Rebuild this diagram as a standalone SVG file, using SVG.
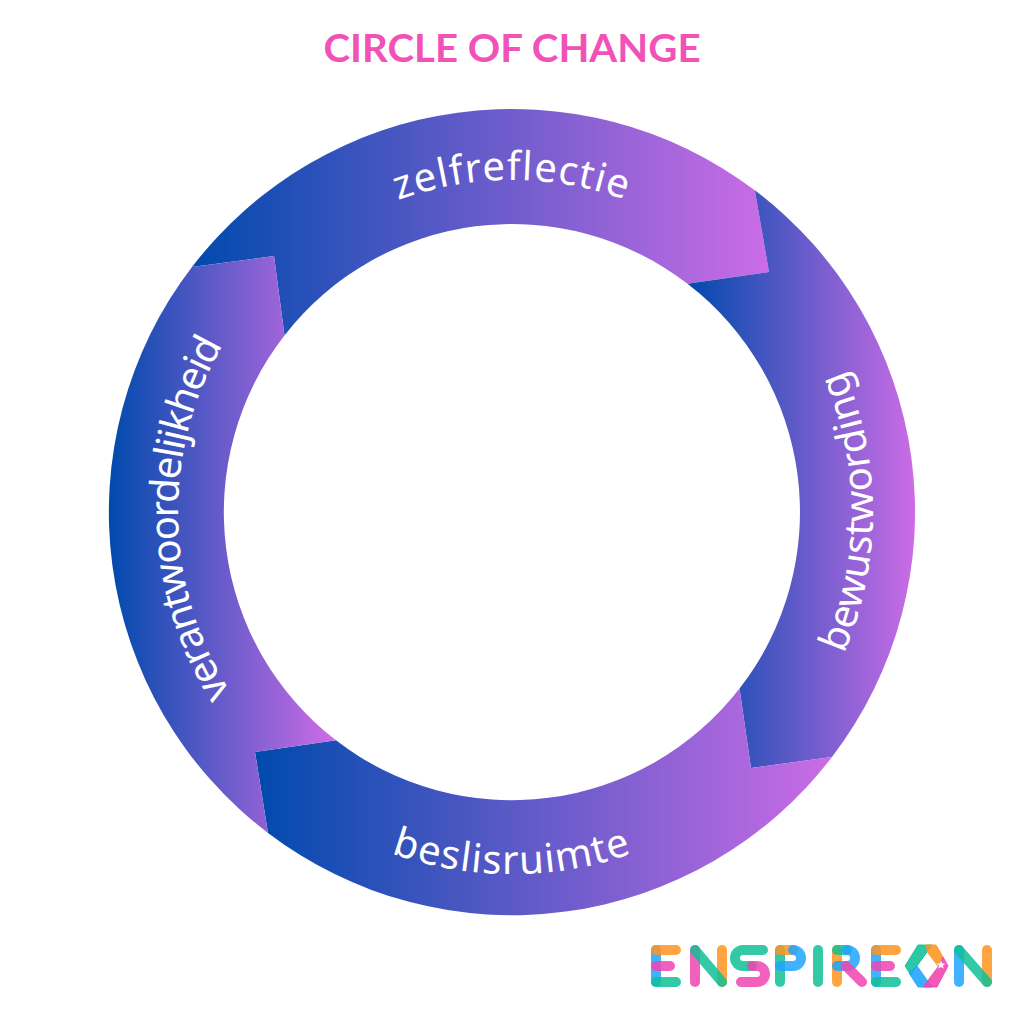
<svg xmlns="http://www.w3.org/2000/svg" width="1024" height="1024" viewBox="0 0 1024 1024">
<style>
.lbl{font-family:"Noto Sans","Open Sans","DejaVu Sans",sans-serif;font-size:40px;fill:#fff;text-anchor:middle}
.title{font-family:"Lato","Liberation Sans",sans-serif;font-weight:700;font-size:39px;fill:#f052b8;text-anchor:middle}
.s{fill:none;stroke-width:10;stroke-linecap:round;stroke-linejoin:round;stroke-opacity:.85}
.f{stroke-width:1;stroke-linejoin:round;fill-opacity:.88;stroke-opacity:.88}
.b{stroke:#1ea5ff}.o{stroke:#ff9420}.t{stroke:#0fbf98}.p{stroke:#ee44b0}
</style>
<defs>
<linearGradient id="gTop" gradientUnits="userSpaceOnUse" x1="192" y1="0" x2="769" y2="0"><stop offset="0" stop-color="#004aad"/><stop offset="1" stop-color="#cb6ce6"/></linearGradient>
<linearGradient id="gRight" gradientUnits="userSpaceOnUse" x1="688" y1="0" x2="915" y2="0"><stop offset="0" stop-color="#004aad"/><stop offset="1" stop-color="#cb6ce6"/></linearGradient>
<linearGradient id="gBottom" gradientUnits="userSpaceOnUse" x1="255" y1="0" x2="832" y2="0"><stop offset="0" stop-color="#004aad"/><stop offset="1" stop-color="#cb6ce6"/></linearGradient>
<linearGradient id="gLeft" gradientUnits="userSpaceOnUse" x1="109" y1="0" x2="332" y2="0"><stop offset="0" stop-color="#004aad"/><stop offset="1" stop-color="#cb6ce6"/></linearGradient>
<path id="pTop" d="M180,512 A332,332 0 0 1 844,512"/>
<path id="pRight" d="M512,873 A361,361 0 0 0 512,151"/>
<path id="pBottom" d="M150,512 A362,362 0 0 0 874,512"/>
<path id="pLeft" d="M512,846 A334,334 0 0 1 512,178"/>
</defs>
<rect width="1024" height="1024" fill="#fff"/>
<text id="title" class="title" x="512" y="62" textLength="377" lengthAdjust="spacingAndGlyphs">CIRCLE OF CHANGE</text>
<g id="node-zelfreflectie">
<path fill="url(#gTop)" d="M192,267 A403,403 0 0 1 754.8,190.3 L769,272 L687.5,283.7 A288,288 0 0 0 284.5,335.4 L274,256 Z"/>
<text class="lbl" letter-spacing="1.2"><textPath href="#pTop" startOffset="50%">zelfreflectie</textPath></text>
</g>
<g id="node-bewustwording">
<path fill="url(#gRight)" d="M754.8,190.3 A403,403 0 0 1 832,757 L751,768 L739.5,688.6 A288,288 0 0 0 687.5,283.7 L769,272 Z"/>
<text class="lbl"><textPath href="#pRight" startOffset="50%">bewustwording</textPath></text>
</g>
<g id="node-beslisruimte">
<path fill="url(#gBottom)" d="M832,757 A403,403 0 0 1 268,833 L255,752 L336,740.3 A288,288 0 0 0 739.5,688.6 L751,768 Z"/>
<text class="lbl" letter-spacing="1.2"><textPath href="#pBottom" startOffset="50%">beslisruimte</textPath></text>
</g>
<g id="node-verantwoordelijkheid">
<path fill="url(#gLeft)" d="M268,833 A403,403 0 0 1 192,267 L274,256 L284.5,335.4 A288,288 0 0 0 336,740.3 L255,752 Z"/>
<text class="lbl" letter-spacing="-1.7"><textPath href="#pLeft" startOffset="49.2%">verantwoordelijkheid</textPath></text>
</g>
<g id="logo">
<path class="s b" d="M656,950V982"/><path class="s o" d="M656,950H676"/><path class="s p" d="M656,966H670"/><path class="s t" d="M656,982H676"/>
<path class="s p" d="M695,950V982"/><path class="s o" d="M722,950V982"/><path class="s t" d="M695,950L722,982"/>
<path class="s t" d="M763,950H743A8,8 0 0 0 743,966H752"/><path class="s p" d="M752,966H757A8,8 0 0 1 757,982H741"/>
<path class="s t" d="M780,950V982"/><path class="s o" d="M780,950H793"/><path class="s b" d="M793,950A8,8 0 0 1 793,966H780"/>
<path class="s t" d="M818,950V982"/>
<path class="s o" d="M837,950V982"/><path class="s t" d="M837,950H847"/><path class="s b" d="M847,950A8,8 0 0 1 847,966H837"/><path class="s p" d="M846,966L862,982"/>
<path class="s b" d="M876,950V982"/><path class="s o" d="M876,950H896"/><path class="s p" d="M876,966H890"/><path class="s t" d="M876,982H896"/>
<path class="f" fill="#0fbf98" stroke="#0fbf98" d="M905,966L918,945H932L917,966L911,975Z"/>
<path class="f" fill="#1ea5ff" stroke="#1ea5ff" d="M917,966L932,987H918L909,973Z"/>
<path class="f" fill="#ff9420" stroke="#ff9420" d="M926,945H936L943,957L938,966L928,953Z"/>
<path class="f" fill="#ee44b0" stroke="#ee44b0" d="M943,957L948,966L937,987H923L938,967Z"/>
<path fill="#fff" d="M941,960.5L942.2,963.4L945.3,963.6L942.9,965.6L943.7,968.6L941,967L938.3,968.6L939.1,965.6L936.7,963.6L939.8,963.4Z"/>
<path class="s b" d="M959,950V982"/><path class="s o" d="M987,950V982"/><path class="s t" d="M959,950L987,982"/>
</g>
</svg>
